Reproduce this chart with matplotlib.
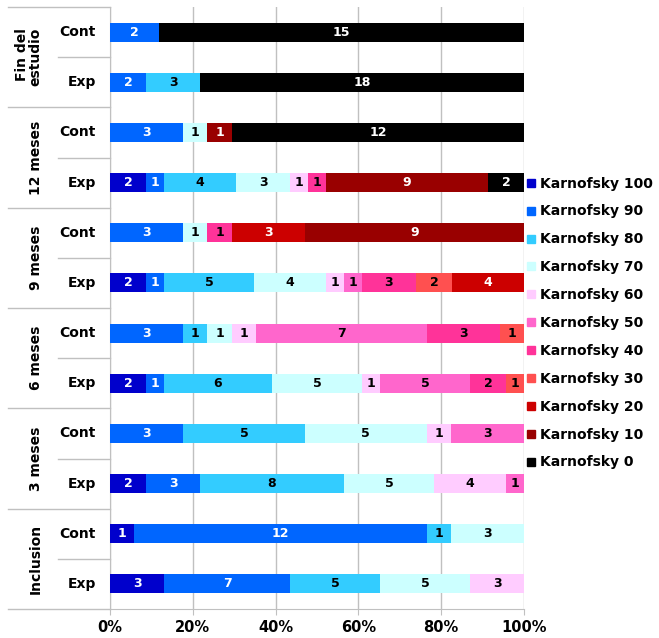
import numpy as np
import matplotlib.pyplot as plt

# Karnofsky score counts per row (top to bottom: Cont/Exp for each visit)
groups = ['Fin del\nestudio', '12 meses', '9 meses', '6 meses', '3 meses', 'Inclusion']
arms = ['Cont', 'Exp']

k100 = [0, 0, 0, 2, 0, 2, 0, 2, 0, 2, 1, 3]
k90 = [2, 2, 3, 1, 3, 1, 3, 1, 3, 3, 12, 7]
k80 = [0, 3, 0, 4, 0, 5, 1, 6, 5, 8, 1, 5]
k70 = [0, 0, 1, 3, 1, 4, 1, 5, 5, 5, 3, 5]
k60 = [0, 0, 0, 1, 0, 1, 1, 1, 1, 4, 0, 3]
k50 = [0, 0, 0, 0, 0, 1, 7, 5, 3, 1, 0, 0]
k40 = [0, 0, 0, 1, 1, 3, 3, 2, 0, 0, 0, 0]
k30 = [0, 0, 0, 0, 0, 2, 1, 1, 0, 0, 0, 0]
k20 = [0, 0, 0, 0, 3, 4, 0, 0, 0, 0, 0, 0]
k10 = [0, 0, 1, 9, 9, 0, 0, 0, 0, 0, 0, 0]
k0 = [15, 18, 12, 2, 0, 0, 0, 0, 0, 0, 0, 0]

series = [k100, k90, k80, k70, k60, k50, k40, k30, k20, k10, k0]
names = ['Karnofsky 100', 'Karnofsky 90', 'Karnofsky 80', 'Karnofsky 70',
         'Karnofsky 60', 'Karnofsky 50', 'Karnofsky 40', 'Karnofsky 30',
         'Karnofsky 20', 'Karnofsky 10', 'Karnofsky 0']
colors = ['#0000CC', '#0066FF', '#33CCFF', '#CCFFFF', '#FFCCFF', '#FF66CC',
          '#FF3399', '#FF5050', '#CC0000', '#990000', '#000000']
text_colors = ['white', 'white', 'black', 'black', 'black', 'black',
               'black', 'black', 'white', 'white', 'white']

data = np.array(series, dtype=float)
totals = data.sum(axis=0)
shares = data / totals

nrows = data.shape[1]
ypos = nrows - 0.5 - np.arange(nrows)

fig = plt.figure(figsize=(6.59, 6.38), dpi=100)
ax = fig.add_axes([110 / 659, 1 - 609 / 638, 414 / 659, 602 / 638])

left = np.zeros(nrows)
for vals, share, name, c, tc in zip(data, shares, names, colors, text_colors):
    ax.barh(ypos, share, left=left, height=0.38, color=c, label=name, zorder=3)
    for y, v, s, l in zip(ypos, vals, share, left):
        if v > 0:
            ax.text(l + s / 2, y, '%d' % v, ha='center', va='center',
                    color=tc, fontsize=9, fontweight='bold', zorder=4)
    left += share

ax.set_xlim(0, 1)
ax.set_ylim(0, nrows)
ax.set_xticks(np.arange(0, 1.01, 0.2))
ax.set_xticklabels(['%d%%' % (t * 100) for t in np.arange(0, 1.01, 0.2)],
                   fontsize=10.5, fontweight='bold')
ax.set_yticks([])
ax.tick_params(axis='x', length=4, color='#c0c0c0', pad=4)
ax.grid(axis='x', color='#c0c0c0', lw=1, zorder=0)
for side in ['top', 'right']:
    ax.spines[side].set_visible(False)
ax.spines['left'].set_color('#c0c0c0')
ax.spines['bottom'].set_color('#c0c0c0')

# category labels and separators on the left
tr = ax.get_yaxis_transform()
for i, g in enumerate(groups):
    top = nrows - 2 * i
    ax.plot([-0.246, 0], [top, top], color='#c0c0c0', lw=1,
            transform=tr, clip_on=False)
    ax.plot([-0.1256, 0], [top - 1, top - 1], color='#c0c0c0', lw=1,
            transform=tr, clip_on=False)
    ax.text(-0.163, top - 1, g, rotation=90, ha='right', va='center',
            fontsize=10, fontweight='bold', transform=tr, linespacing=0.95)
    for j, a in enumerate(arms):
        ax.text(-0.034, top - 0.5 - j, a, ha='right', va='center',
                fontsize=10, fontweight='bold', transform=tr)
ax.plot([-0.246, 0], [0, 0], color='#c0c0c0', lw=1, transform=tr, clip_on=False)

handles = [plt.Line2D([], [], marker='s', color=c, ls='', markersize=6)
           for c in colors]
leg = ax.legend(handles, names, loc='center left', bbox_to_anchor=(1.0, 0.475),
                frameon=False, prop={'size': 10, 'weight': 'bold'},
                handlelength=0.6, handletextpad=0.35, labelspacing=1.0,
                borderpad=0, borderaxespad=0.2)

plt.savefig('out.png', dpi=100)
